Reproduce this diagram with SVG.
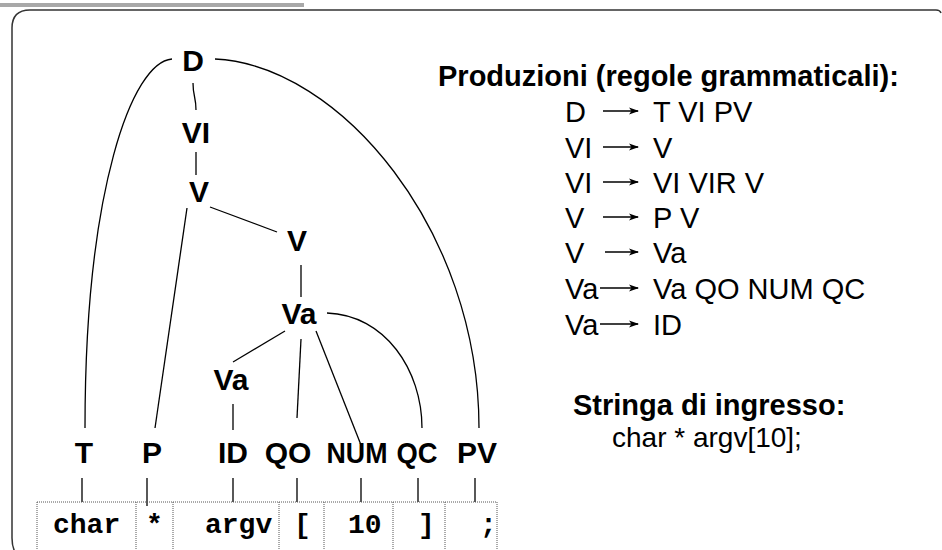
<svg xmlns="http://www.w3.org/2000/svg" width="942" height="550" viewBox="0 0 942 550">
  <style>
    .lbl { font-family: "Liberation Sans", Arial, sans-serif; font-weight: bold; font-size: 30px; fill: #000; text-anchor: middle; }
    .prod { font-family: "Liberation Sans", Arial, sans-serif; font-size: 29px; fill: #000; }
    .head { font-family: "Liberation Sans", Arial, sans-serif; font-weight: bold; font-size: 29px; fill: #000; }
    .tok { font-family: "Liberation Mono", "Courier New", monospace; font-weight: bold; font-size: 28px; fill: #000; }
    .edge { fill: none; stroke: #000; stroke-width: 1.3; }
    .cell { fill: none; stroke: #555; stroke-width: 1; stroke-dasharray: 1 1; }
    .arr { stroke: #000; stroke-width: 1.3; marker-end: url(#ah); }
  </style>
  <defs>
    <marker id="ah" viewBox="0 0 10 8" refX="9" refY="4" markerWidth="10" markerHeight="8" markerUnits="userSpaceOnUse" orient="auto">
      <path d="M0,0.5 L10,4 L0,7.5 L2.5,4 Z" fill="#000"/>
    </marker>
  </defs>

  <rect width="942" height="550" fill="#fff"/>
  <!-- header bar and frame -->
  <rect x="0" y="3" width="304" height="4" fill="#a8a8a8"/>
  <path d="M941,13 Q940,10 936,10 L30,10 Q12,10 12,28 L12,538 Q12,550 18,556" fill="none" stroke="#333" stroke-width="1.5"/>

  <!-- connectors -->
  <g id="connectors">
    <path class="edge" d="M172,59 C132,62 85,190 85,428"/>
    <path class="edge" d="M193,83 C193,96 196,97 196,110"/>
    <path class="edge" d="M215,59 C340,65 479,230 479,428"/>
    <path class="edge" d="M196,152 L196,175"/>
    <path class="edge" d="M187,208 L155,428"/>
    <path class="edge" d="M210,207 L277,232"/>
    <path class="edge" d="M301,265 L301,297"/>
    <path class="edge" d="M285,331 L233,362"/>
    <path class="edge" d="M301,339 L297,418"/>
    <path class="edge" d="M316,331 L361,445"/>
    <path class="edge" d="M327,313 C385,315 422,370 422,428"/>
    <path class="edge" d="M233,404 L233,430"/>
    <!-- leaf ticks down to the token cells -->
    <path class="edge" d="M82,478 L82,502 M147,478 L147,506 M233,478 L233,502 M297,478 L297,502 M361,478 L361,502 M418,478 L418,502 M475,478 L475,502"/>
  </g>

  <!-- parse tree nodes -->
  <g id="n-D"><text class="lbl" x="193" y="71">D</text></g>
  <g id="n-VI"><text class="lbl" x="196" y="143">VI</text></g>
  <g id="n-V1"><text class="lbl" x="199" y="202">V</text></g>
  <g id="n-V2"><text class="lbl" x="297" y="251">V</text></g>
  <g id="n-Va1"><text class="lbl" x="299" y="324">Va</text></g>
  <g id="n-Va2"><text class="lbl" x="231" y="390">Va</text></g>
  <g id="n-T"><text class="lbl" x="84" y="463">T</text></g>
  <g id="n-P"><text class="lbl" x="152" y="463">P</text></g>
  <g id="n-ID"><text class="lbl" x="233" y="463">ID</text></g>
  <g id="n-QO"><text class="lbl" x="288" y="463">QO</text></g>
  <g id="n-NUM"><text class="lbl" x="357" y="463" textLength="61" lengthAdjust="spacingAndGlyphs">NUM</text></g>
  <g id="n-QC"><text class="lbl" x="417" y="463" textLength="41" lengthAdjust="spacingAndGlyphs">QC</text></g>
  <g id="n-PV"><text class="lbl" x="477" y="463">PV</text></g>

  <!-- input token cells -->
  <g id="tokens">
    <path class="cell" d="M37,502 L497,502 M37,502 L37,552 M136,502 L136,552 M173,502 L173,552 M279,502 L279,552 M324,502 L324,552 M393,502 L393,552 M445,502 L445,552 M497,502 L497,552"/>
    <text class="tok" x="53" y="533">char</text>
    <text class="tok" x="146" y="533">*</text>
    <text class="tok" x="205" y="533">argv</text>
    <text class="tok" x="294" y="533">[</text>
    <text class="tok" x="348" y="533">10</text>
    <text class="tok" x="418" y="533">]</text>
    <text class="tok" x="480" y="533">;</text>
  </g>

  <!-- grammar productions -->
  <g id="productions">
    <text class="head" x="438" y="86">Produzioni (regole grammaticali):</text>
    <text class="prod" x="565" y="122">D</text><line class="arr" x1="603" y1="111" x2="638" y2="111"/><text class="prod" x="653" y="122">T VI PV</text>
    <text class="prod" x="565" y="158">VI</text><line class="arr" x1="603" y1="147" x2="638" y2="147"/><text class="prod" x="653" y="158">V</text>
    <text class="prod" x="565" y="193">VI</text><line class="arr" x1="603" y1="182" x2="638" y2="182"/><text class="prod" x="653" y="193">VI VIR V</text>
    <text class="prod" x="565" y="228">V</text><line class="arr" x1="603" y1="217" x2="638" y2="217"/><text class="prod" x="653" y="228">P V</text>
    <text class="prod" x="565" y="263">V</text><line class="arr" x1="605" y1="252" x2="638" y2="252"/><text class="prod" x="653" y="263">Va</text>
    <text class="prod" x="565" y="299">Va</text><line class="arr" x1="600" y1="288" x2="638" y2="288"/><text class="prod" x="653" y="299">Va QO NUM QC</text>
    <text class="prod" x="565" y="335">Va</text><line class="arr" x1="600" y1="324" x2="638" y2="324"/><text class="prod" x="653" y="335">ID</text>
  </g>

  <!-- input string -->
  <g id="input">
    <text class="head" x="573" y="415">Stringa di ingresso:</text>
    <text class="prod" x="612" y="447" style="font-size:28px">char * argv[10];</text>
  </g>
</svg>
